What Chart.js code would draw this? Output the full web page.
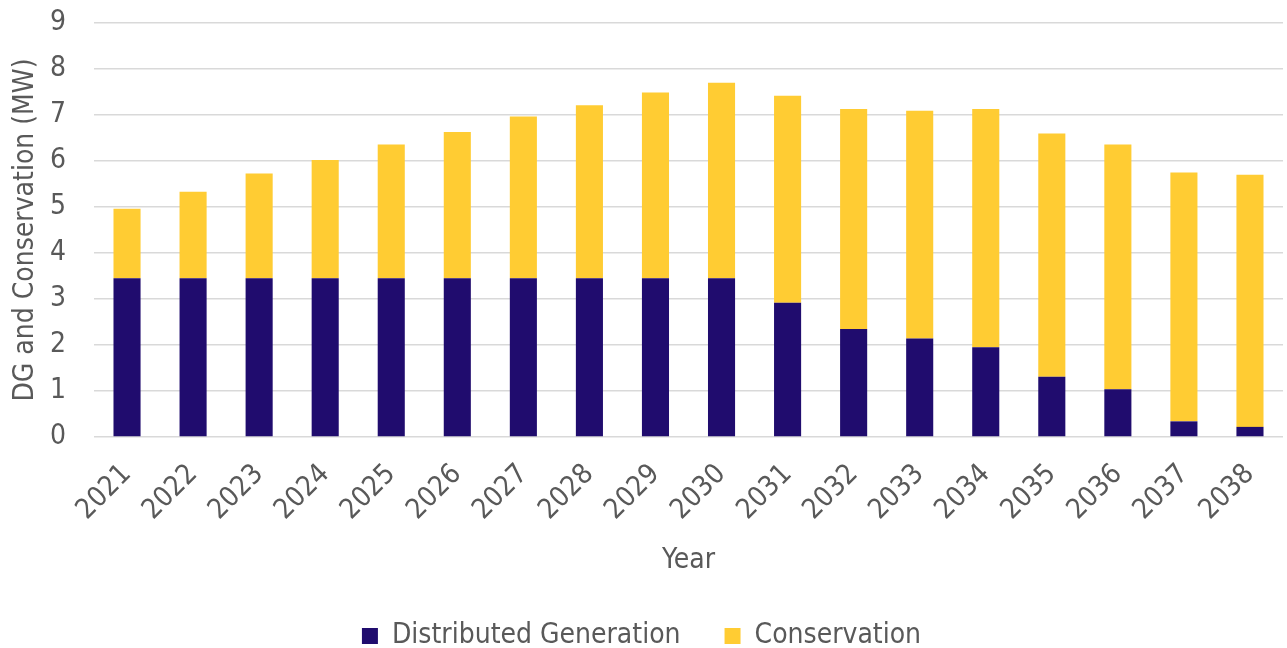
<!DOCTYPE html>
<html>
<head>
<meta charset="utf-8">
<script src="https://cdn.jsdelivr.net/npm/chart.js@4.4.0/dist/chart.umd.min.js"></script>
<style>
  html, body { margin: 0; padding: 0; background: #ffffff; }
  #wrap { width: 1287px; height: 648px; position: relative; }
</style>
</head>
<body>
<div id="wrap"><canvas id="c" width="1287" height="648"></canvas></div>
<script>
const years = ["2021","2022","2023","2024","2025","2026","2027","2028","2029","2030","2031","2032","2033","2034","2035","2036","2037","2038"];
const distributedGeneration = [3.45,3.45,3.45,3.45,3.45,3.45,3.45,3.45,3.45,3.45,2.92,2.35,2.14,1.95,1.31,1.04,0.34,0.22];
const conservation = [1.51,1.88,2.28,2.57,2.91,3.18,3.52,3.76,4.04,4.25,4.50,4.78,4.95,5.18,5.29,5.32,5.41,5.48];
const yTicks = [0,1,2,3,4,5,6,7,8,9];

const FONT = "'DejaVu Sans Condensed', 'DejaVu Sans', sans-serif";
const GREY = "#595959";
const FS = 28;

new Chart(document.getElementById('c'), {
  type: 'bar',
  data: {
    labels: years,
    datasets: [
      { label: 'Distributed Generation', data: distributedGeneration, backgroundColor: '#200C6E', borderWidth: 0 },
      { label: 'Conservation', data: conservation, backgroundColor: '#FFCC33', borderWidth: 0 }
    ]
  },
  options: {
    responsive: false,
    devicePixelRatio: 1,
    animation: false,
    layout: { padding: { left: 0, right: 4, top: 23, bottom: -12 } },
    datasets: { bar: { categoryPercentage: 1.0, barPercentage: 0.41 } },
    plugins: {
      legend: {
        position: 'bottom',
        labels: {
          font: { family: FONT, size: FS },
          color: GREY,
          boxWidth: 16, boxHeight: 16,
          padding: 44
        }
      },
      tooltip: { enabled: false }
    },
    scales: {
      x: {
        stacked: true,
        grid: { display: false },
        border: { display: false },
        ticks: { font: { family: FONT, size: FS }, color: GREY, maxRotation: 45, minRotation: 45, padding: 13 },
        title: { display: true, text: 'Year', font: { family: FONT, size: FS }, color: GREY, padding: { top: 0, bottom: 0 } },
        afterFit: (axis) => { axis.height = 141; axis.paddingLeft = 0; axis.paddingRight = 0; }
      },
      y: {
        stacked: true,
        min: 0, max: 9,
        afterBuildTicks: (axis) => { axis.ticks = yTicks.map(v => ({ value: v })); },
        grid: { color: '#d9d9d9', lineWidth: 1.5, drawTicks: false },
        border: { display: false },
        ticks: { font: { family: FONT, size: FS }, color: GREY, padding: 28 },
        title: { display: true, text: 'DG and Conservation (MW)', font: { family: FONT, size: FS }, color: GREY, padding: { top: 9, bottom: 0 } },
        afterFit: (axis) => { axis.width = 94; axis.paddingTop = 0; axis.paddingBottom = 0; }
      }
    }
  }
});
</script>
</body>
</html>
